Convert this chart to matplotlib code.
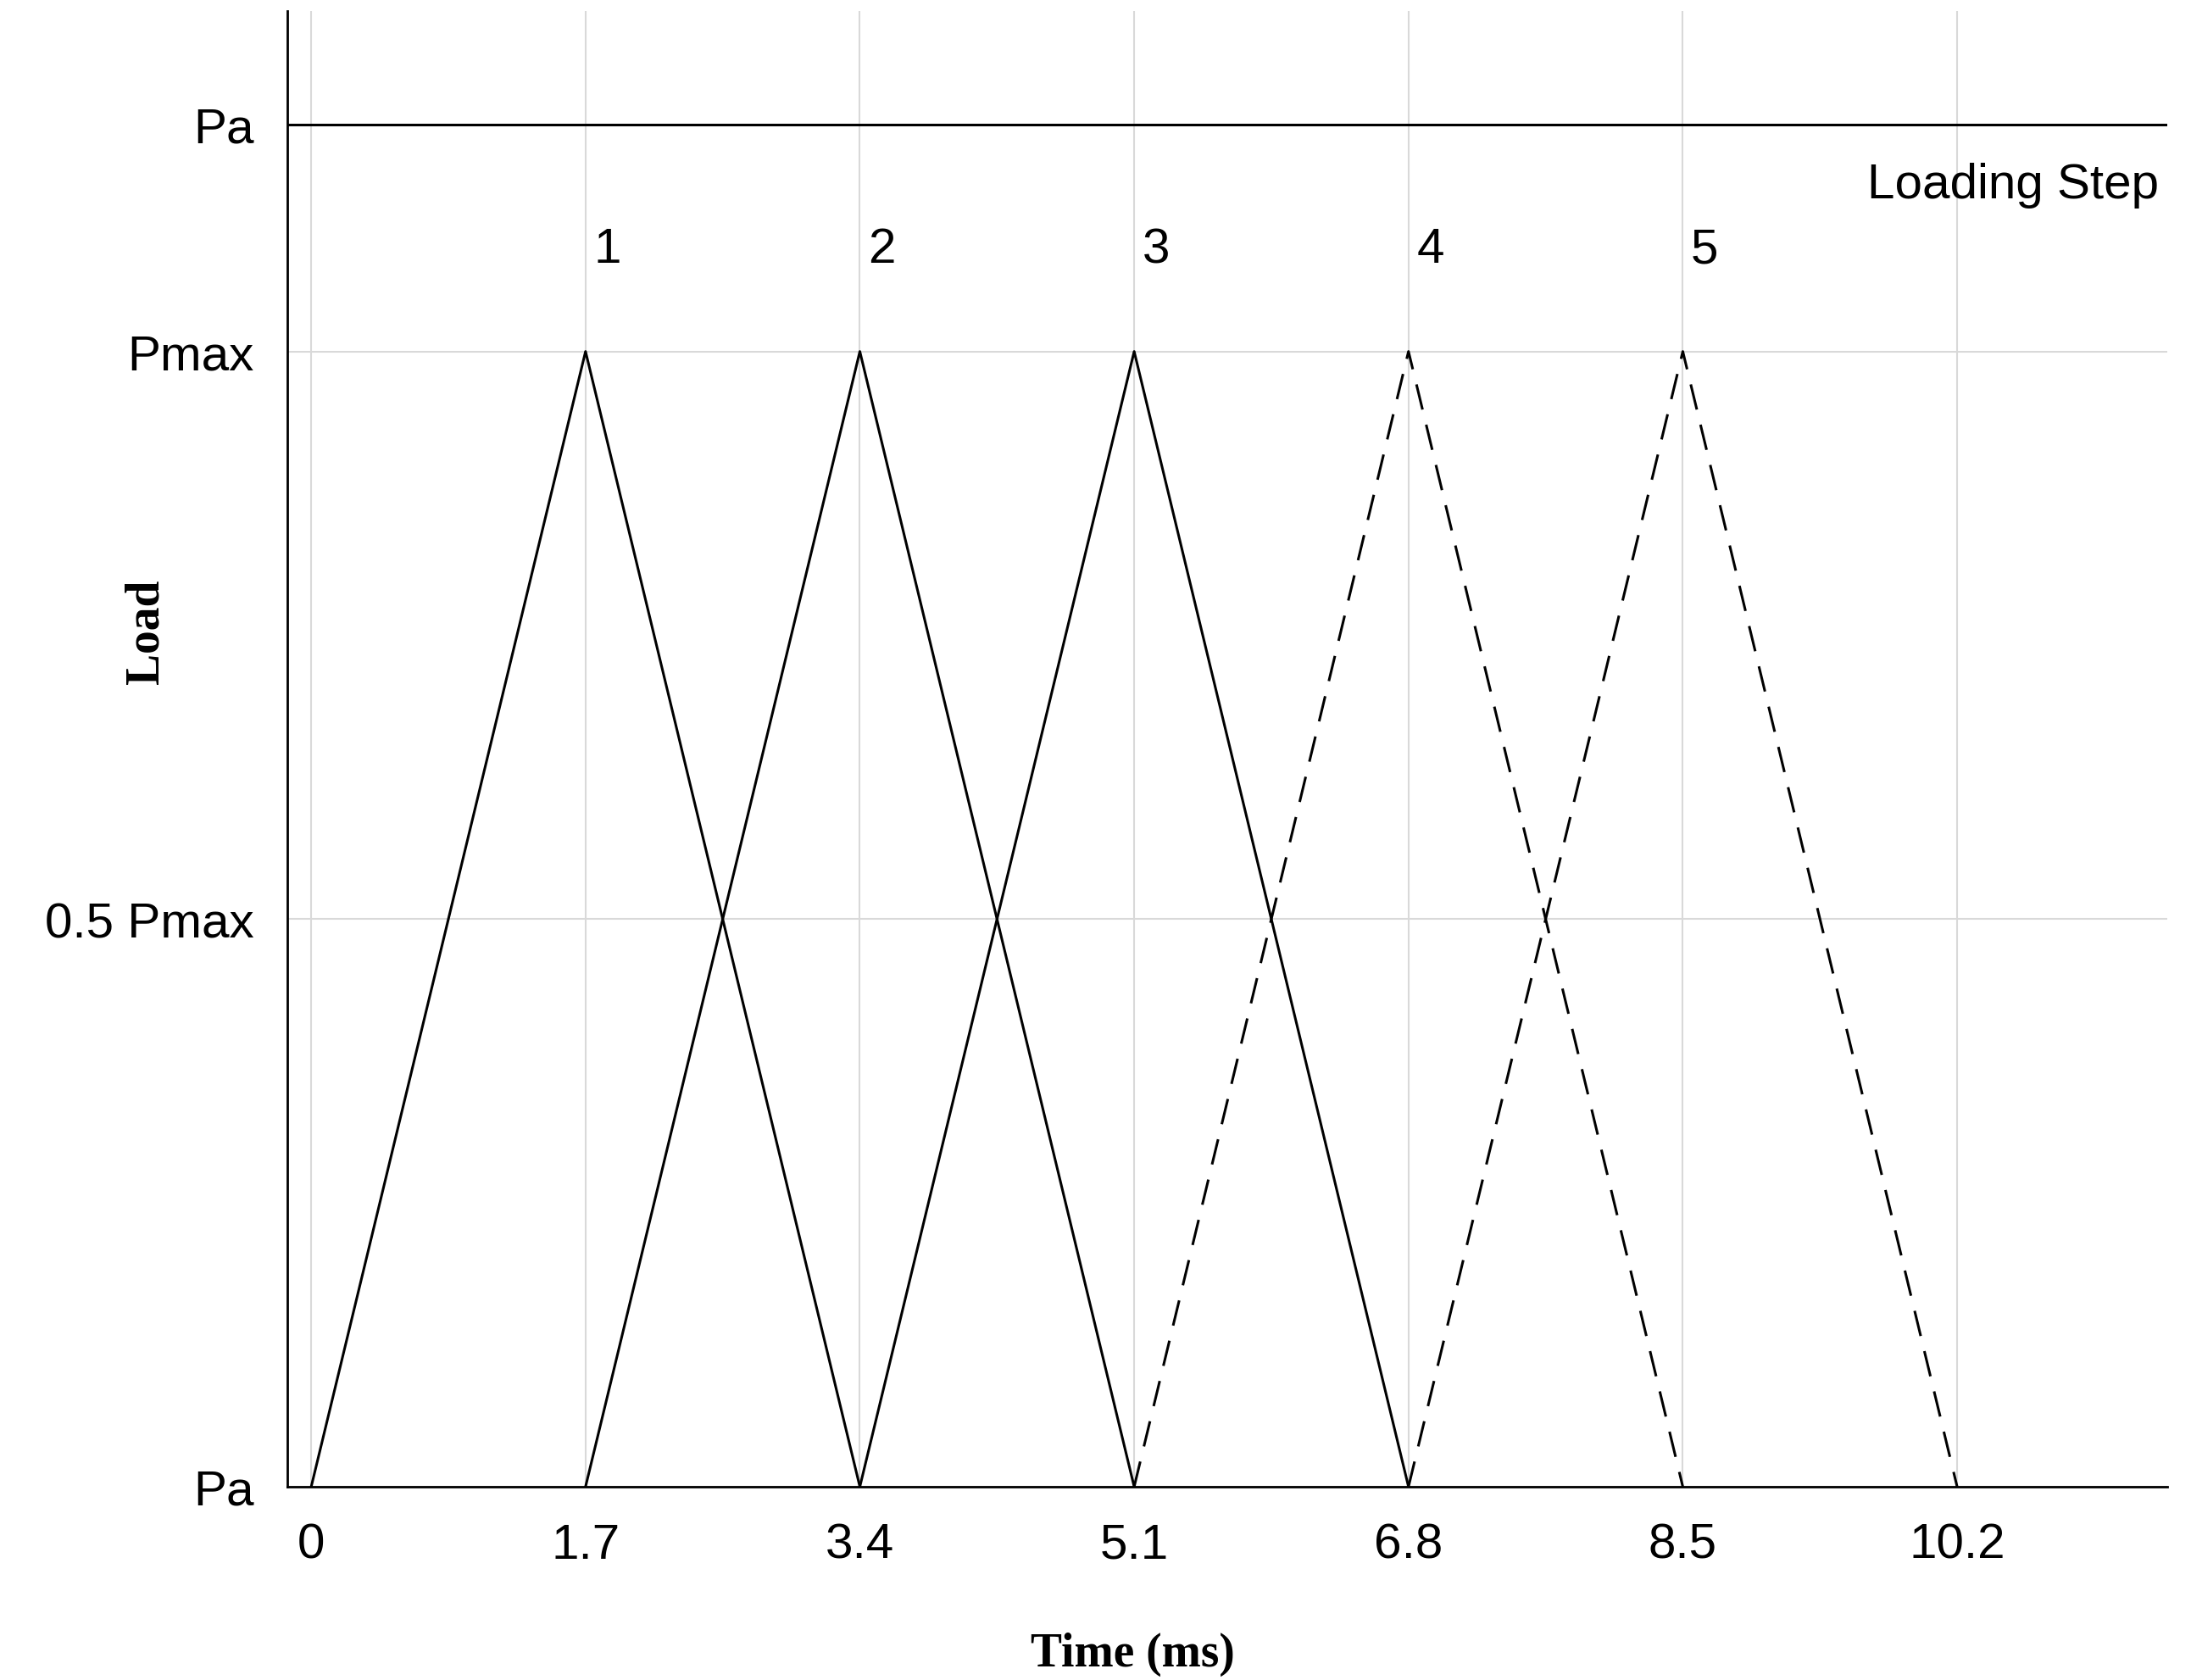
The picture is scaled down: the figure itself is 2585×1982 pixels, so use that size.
import matplotlib.pyplot as plt

# loading pulses: (start, peak, end) in ms
starts = [0.0, 1.7, 3.4, 5.1, 6.8]
peaks = [1.7, 3.4, 5.1, 6.8, 8.5]
ends = [3.4, 5.1, 6.8, 8.5, 10.2]
styles = ['-', '-', '-', '--', '--']
step_labels = ['1', '2', '3', '4', '5']

xticks = [0, 1.7, 3.4, 5.1, 6.8, 8.5, 10.2]
xticklabels = ['0', '1.7', '3.4', '5.1', '6.8', '8.5', '10.2']
yticks = [0, 0.5, 1.0, 1.2]
yticklabels = ['Pa', '0.5 Pmax', 'Pmax', 'Pa']

plt.rcParams['font.family'] = ['Liberation Sans', 'DejaVu Sans']

fig = plt.figure(figsize=(25.85, 19.83), dpi=100)
ax = fig.add_axes([0.131, 0.115, 0.858, 0.878])

for s, p, e, ls in zip(starts, peaks, ends, styles):
    ax.plot([s, p, e], [0, 1, 0], color='black', linestyle=ls, linewidth=2.2,
            dashes=(10, 6) if ls == '--' else (None, None))

ax.axhline(1.2, color='black', linewidth=2.2)

for p, lab in zip(peaks, step_labels):
    ax.text(p + 0.05, 1.09, lab, fontsize=42, ha='left', va='center')
ax.text(11.45, 1.147, 'Loading Step', fontsize=42, ha='right', va='center')

ax.set_xlim(-0.15, 11.5)
ax.set_ylim(0, 1.3)
ax.set_xticks(xticks)
ax.set_xticklabels(xticklabels)
ax.set_yticks(yticks)
ax.set_yticklabels(yticklabels)
ax.tick_params(labelsize=42, length=0)
ax.tick_params(axis='x', pad=30)
ax.tick_params(axis='y', pad=28)
ax.grid(True, color='#d9d9d9', linewidth=1.5)
ax.set_axisbelow(True)
for side in ['top', 'right']:
    ax.spines[side].set_visible(False)
for side in ['left', 'bottom']:
    ax.spines[side].set_linewidth(2)

ax.set_xlabel('Time (ms)', fontsize=40, fontweight='bold',
              family='Liberation Serif')
ax.set_ylabel('Load', fontsize=40, fontweight='bold',
              family='Liberation Serif')
ax.xaxis.set_label_coords(0.45, -0.098)
ax.yaxis.set_label_coords(-0.063, 0.58)

fig.savefig('out.png', dpi=100)
